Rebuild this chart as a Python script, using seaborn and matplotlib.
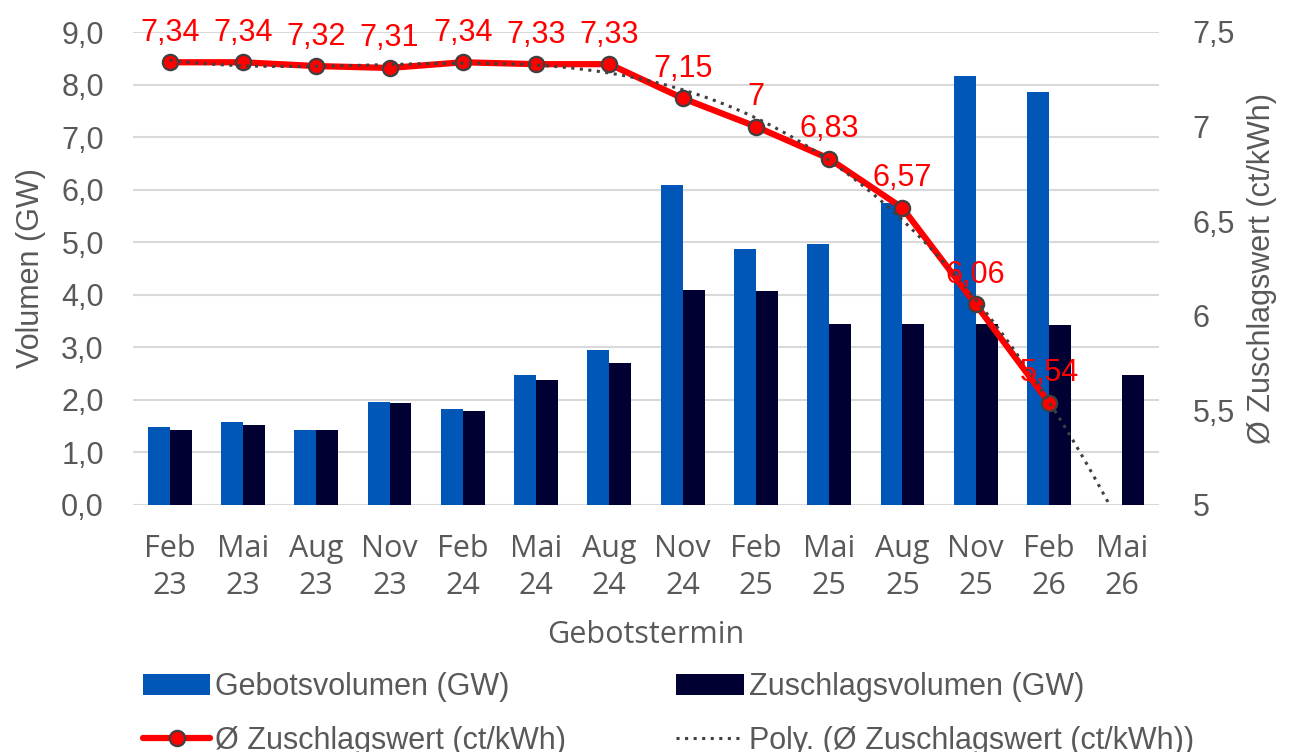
import numpy as np
import pandas as pd
import matplotlib
matplotlib.use("Agg")
import matplotlib.pyplot as plt
import seaborn as sns
from matplotlib.lines import Line2D
from matplotlib.patches import Patch

# ---------------- data ----------------
termine = ["Feb\n23", "Mai\n23", "Aug\n23", "Nov\n23", "Feb\n24", "Mai\n24", "Aug\n24",
           "Nov\n24", "Feb\n25", "Mai\n25", "Aug\n25", "Nov\n25", "Feb\n26", "Mai\n26"]
gebotsvolumen = [1.49, 1.58, 1.42, 1.96, 1.82, 2.47, 2.95, 6.08, 4.88, 4.96, 5.74, 8.16, 7.85, np.nan]
zuschlagsvolumen = [1.43, 1.52, 1.42, 1.95, 1.78, 2.37, 2.71, 4.09, 4.08, 3.44, 3.44, 3.44, 3.42, 2.48]
zuschlagswert = [7.34, 7.34, 7.32, 7.31, 7.34, 7.33, 7.33, 7.15, 7.00, 6.83, 6.57, 6.06, 5.54]
left_ticks = [0, 1, 2, 3, 4, 5, 6, 7, 8, 9]
right_ticks = [5.0, 5.5, 6.0, 6.5, 7.0, 7.5]

lab_geb = "Gebotsvolumen (GW)"
lab_zus = "Zuschlagsvolumen (GW)"
lab_wert = "Ø Zuschlagswert (ct/kWh)"
lab_poly = "Poly. (Ø Zuschlagswert (ct/kWh))"

df = pd.DataFrame({
    "Termin": termine * 2,
    "Serie": [lab_geb] * len(termine) + [lab_zus] * len(termine),
    "Wert": gebotsvolumen + zuschlagsvolumen,
})

# ---------------- style ----------------
BLUE = "#0057B7"
NAVY = "#000033"
RED = "#FF0000"
GREY = "#595959"
GRID = "#D9D9D9"

sns.set_theme(style="white")
plt.rcParams["font.family"] = ["Liberation Sans", "DejaVu Sans"]
plt.rcParams["text.color"] = GREY
plt.rcParams["axes.labelcolor"] = GREY

fig = plt.figure(figsize=(12.91, 7.52), dpi=100)
ax = fig.add_axes([133 / 1291, 1 - 505 / 752, (1159 - 133) / 1291, (505 - 32) / 752])

sns.barplot(data=df, x="Termin", y="Wert", hue="Serie", order=termine,
            hue_order=[lab_geb, lab_zus], palette=[BLUE, NAVY], width=0.6,
            saturation=1, ax=ax, legend=False, errorbar=None, linewidth=0)

ax.set_ylim(0, 9)
ax.set_yticks(left_ticks)
ax.set_yticklabels([f"{v:.1f}".replace(".", ",") for v in left_ticks], fontsize=22, color=GREY)
ax.set_axisbelow(True)
ax.grid(axis="y", color=GRID, linewidth=1.5)
ax.grid(axis="x", visible=False)
for s in ax.spines.values():
    s.set_visible(False)
ax.tick_params(axis="both", length=0)
ax.tick_params(axis="y", pad=21)
ax.tick_params(axis="x", pad=21)
for t in ax.get_xticklabels():
    t.set_fontfamily(["Open Sans", "DejaVu Sans"])
    t.set_fontsize(22)
    t.set_color(GREY)
    t.set_linespacing(1.3)
ax.set_xlabel("Gebotstermin", fontsize=22, fontfamily=["Open Sans", "DejaVu Sans"], color=GREY)
ax.xaxis.set_label_coords(0.5, -0.275)
ax.xaxis.label.set_va("center")
ax.set_ylabel("Volumen (GW)", fontsize=22, color=GREY)
ax.yaxis.set_label_coords(-0.099, 0.5)
ax.yaxis.label.set_va("center")

# ---------------- secondary axis ----------------
ax2 = ax.twinx()
xs = np.arange(len(zuschlagswert))
coef = np.polyfit(xs + 1, zuschlagswert, 3)
xfit = np.linspace(0, len(termine) - 1, 300)
ax2.plot(xfit, np.polyval(coef, xfit + 1), color="#404040", linewidth=2.2,
         linestyle=(0, (1, 1.8)), zorder=4)
sns.lineplot(x=xs, y=zuschlagswert, ax=ax2, color=RED, linewidth=4.5, marker="o",
             markersize=11, markerfacecolor=RED, markeredgecolor="#404040",
             markeredgewidth=1.6, zorder=3)
for x, v in zip(xs, zuschlagswert):
    ax2.annotate(f"{v:g}".replace(".", ","), (x, v), xytext=(0, 15.5), textcoords="offset points",
                 ha="center", va="baseline", fontsize=22, color=RED, zorder=6)
ax2.set_ylim(5, 7.5)
ax2.set_yticks(right_ticks)
ax2.set_yticklabels([f"{v:g}".replace(".", ",") for v in right_ticks], fontsize=22, color=GREY)
ax2.tick_params(axis="y", length=0, pad=24)
for s in ax2.spines.values():
    s.set_visible(False)
ax2.grid(False)
ax2.set_ylabel(lab_wert, fontsize=22, color=GREY)
ax2.yaxis.set_label_coords(1.1, 0.5)
ax2.yaxis.label.set_va("center")
ax.set_xlim(-0.5, len(termine) - 0.5)

# ---------------- legend ----------------
handles = [
    Patch(facecolor=BLUE, edgecolor="none"),
    Line2D([0], [0], color=RED, linewidth=4.5, marker="o", markersize=11,
           markerfacecolor=RED, markeredgecolor="#404040", markeredgewidth=1.6),
    Patch(facecolor=NAVY, edgecolor="none"),
    Line2D([0], [0], color="#404040", linewidth=2.2, linestyle=(0, (1, 1.8))),
]
labels = [lab_geb, lab_wert, lab_zus, lab_poly]
fig.legend(handles, labels, loc="upper left", bbox_to_anchor=(143 / 1291, 1 - 672 / 752),
           ncol=2, frameon=False, fontsize=22, handlelength=2.2, handleheight=0.7,
           handletextpad=0.17, columnspacing=3.6, labelspacing=0.78, borderpad=0,
           borderaxespad=0, labelcolor=GREY)

fig.savefig("out.png", dpi=100)
